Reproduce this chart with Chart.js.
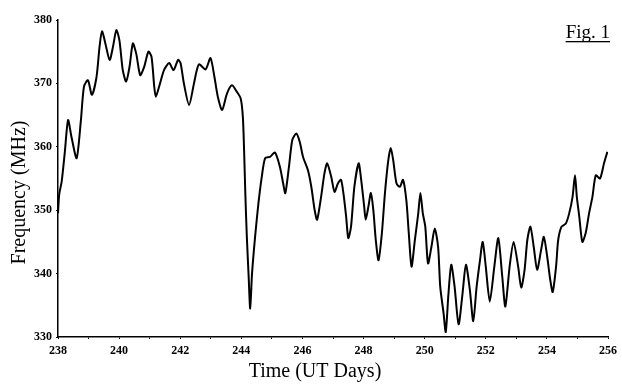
<!DOCTYPE html>
<html>
<head>
<meta charset="utf-8">
<script src="https://cdn.jsdelivr.net/npm/chart.js@4/dist/chart.umd.min.js"></script>
<style>
    html, body { margin: 0; padding: 0; background: #fff; }
    #wrap { position: relative; width: 622px; height: 388px; }
</style>
</head>
<body>
<div id="wrap"><canvas id="freqChart" width="622" height="388"></canvas></div>
<script>
// values (UT day, MHz)
const days = [
    238.00, 238.04, 238.12, 238.22, 238.33, 238.44, 238.61, 238.75, 238.85, 238.98,
    239.11, 239.26, 239.36, 239.44, 239.55, 239.69, 239.80, 239.91, 240.01, 240.12,
    240.23, 240.34, 240.45, 240.56, 240.69, 240.82, 240.96, 241.06, 241.15, 241.20,
    241.31, 241.47, 241.64, 241.78, 241.93, 242.01, 242.12, 242.29, 242.45, 242.61,
    242.83, 242.99, 243.12, 243.23, 243.37, 243.53, 243.69, 243.85, 243.98, 244.05,
    244.09, 244.13, 244.18, 244.24, 244.29, 244.35, 244.45, 244.56, 244.67, 244.78,
    244.94, 245.10, 245.26, 245.37, 245.44, 245.56, 245.67, 245.80, 245.91, 246.02,
    246.18, 246.29, 246.40, 246.48, 246.61, 246.72, 246.81, 246.94, 247.05, 247.16,
    247.26, 247.34, 247.43, 247.50, 247.59, 247.70, 247.84, 247.91, 248.02, 248.07,
    248.16, 248.24, 248.32, 248.40, 248.49, 248.60, 248.70, 248.81, 248.89, 248.97,
    249.08, 249.19, 249.29, 249.40, 249.48, 249.57, 249.68, 249.79, 249.86, 249.94,
    250.02, 250.11, 250.22, 250.33, 250.44, 250.51, 250.62, 250.69, 250.78, 250.87,
    250.98, 251.11, 251.24, 251.35, 251.48, 251.59, 251.70, 251.81, 251.90, 252.00,
    252.13, 252.28, 252.41, 252.54, 252.64, 252.78, 252.91, 253.06, 253.16, 253.27,
    253.36, 253.46, 253.57, 253.68, 253.81, 253.90, 254.01, 254.11, 254.19, 254.30,
    254.37, 254.48, 254.62, 254.73, 254.84, 254.92, 254.98, 255.06, 255.16, 255.27,
    255.38, 255.49, 255.60, 255.74, 255.87, 255.98
];
const freq = [
    349.5, 352.5, 354.5, 359.0, 364.2, 361.6, 358.2, 364.2, 369.5, 370.5,
    368.2, 371.0, 375.8, 378.2, 376.3, 373.7, 375.8, 378.4, 376.8, 372.1,
    370.3, 372.6, 376.3, 374.7, 371.3, 372.6, 375.0, 374.2, 369.5, 367.9,
    369.5, 372.1, 373.2, 372.1, 373.7, 373.2, 370.0, 366.6, 370.0, 373.0,
    372.2, 374.0, 371.0, 367.9, 365.8, 368.4, 369.7, 368.7, 367.6, 364.7,
    359.5, 352.7, 345.8, 339.5, 334.5, 340.0, 345.8, 351.1, 355.3, 358.2,
    358.4, 359.1, 356.9, 354.2, 352.7, 356.9, 361.1, 362.1, 360.8, 358.4,
    356.3, 353.7, 350.0, 348.5, 352.1, 355.8, 357.4, 355.3, 352.9, 354.2,
    354.8, 352.7, 349.0, 345.6, 347.4, 353.7, 357.4, 355.3, 350.6, 348.5,
    350.6, 352.7, 350.0, 345.3, 342.1, 346.4, 352.7, 357.9, 359.8, 357.9,
    354.2, 353.7, 354.8, 351.6, 346.4, 341.1, 345.3, 349.5, 352.7, 349.5,
    347.4, 341.6, 344.2, 347.1, 344.2, 337.9, 333.7, 330.8, 336.9, 341.4,
    337.9, 332.0, 336.9, 341.4, 337.4, 332.5, 337.9, 342.1, 345.0, 341.1,
    335.6, 341.1, 345.6, 339.5, 334.8, 341.1, 345.0, 341.1, 337.8, 340.6,
    345.3, 347.4, 344.2, 340.6, 343.7, 345.8, 342.7, 339.0, 337.1, 341.1,
    345.3, 347.4, 347.9, 349.5, 352.1, 355.5, 352.1, 349.0, 345.0, 346.4,
    349.5, 352.1, 355.5, 355.0, 357.4, 359.2
];
const xRange = [238, 256];
const yRange = [330, 380];
const xTitle = 'Time (UT Days)';
const yTitle = 'Frequency (MHz)';
const figLabel = 'Fig. 1';

const points = days.map((d, i) => ({ x: d, y: freq[i] }));

// axis titles + figure label drawn by hand so they sit where the original has them
const textPlugin = {
    id: 'figText',
    afterDraw(chart) {
        const ctx = chart.ctx;
        const area = chart.chartArea;
        ctx.save();
        ctx.fillStyle = '#000';
        ctx.font = '20px "Liberation Serif"';
        ctx.textAlign = 'center';
        ctx.textBaseline = 'middle';
        ctx.fillText(xTitle, (area.left + area.right) / 2 - 18, 372);

        ctx.translate(20, (area.top + area.bottom) / 2 + 14);
        ctx.rotate(-Math.PI / 2);
        ctx.fillText(yTitle, 0, 0);
        ctx.restore();

        ctx.save();
        ctx.fillStyle = '#000';
        ctx.font = '19px "Liberation Serif"';
        ctx.textAlign = 'right';
        ctx.textBaseline = 'alphabetic';
        ctx.fillText(figLabel, 610, 38);
        const w = ctx.measureText(figLabel).width;
        ctx.fillRect(610 - w, 41, w, 1.3);
        ctx.restore();
    }
};

Chart.defaults.font.family = '"Liberation Serif", serif';
Chart.defaults.color = '#000';

let ctx = document.getElementById('freqChart').getContext('2d');
new Chart(ctx, {
    type: 'line',
    data: {
        datasets: [{
            data: points,
            borderColor: '#000',
            borderWidth: 2,
            pointRadius: 0,
            tension: 0.25,
            fill: false
        }]
    },
    options: {
        responsive: false,
        animation: false,
        layout: { padding: { top: 20, right: 10, left: 0, bottom: 0 } },
        plugins: {
            legend: { display: false },
            tooltip: { enabled: false }
        },
        scales: {
            x: {
                type: 'linear',
                min: xRange[0],
                max: xRange[1],
                afterFit(scale) { scale.height = 51; },
                border: { color: '#000', width: 1.5 },
                grid: { display: true, drawOnChartArea: false, tickLength: 2, color: '#000', lineWidth: 1 },
                ticks: {
                    stepSize: 1,
                    maxRotation: 0,
                    autoSkip: false,
                    padding: 5,
                    font: { size: 12, weight: 'bold' },
                    callback: v => (v % 2 === 0 ? v : '')
                }
            },
            y: {
                min: yRange[0],
                max: yRange[1],
                afterFit(scale) { scale.width = 58; },
                border: { color: '#000', width: 1.5 },
                grid: { display: true, drawOnChartArea: false, tickLength: 2, color: '#000', lineWidth: 1 },
                ticks: {
                    stepSize: 10,
                    padding: 4,
                    font: { size: 12, weight: 'bold' }
                }
            }
        }
    },
    plugins: [textPlugin]
});
</script>
</body>
</html>
